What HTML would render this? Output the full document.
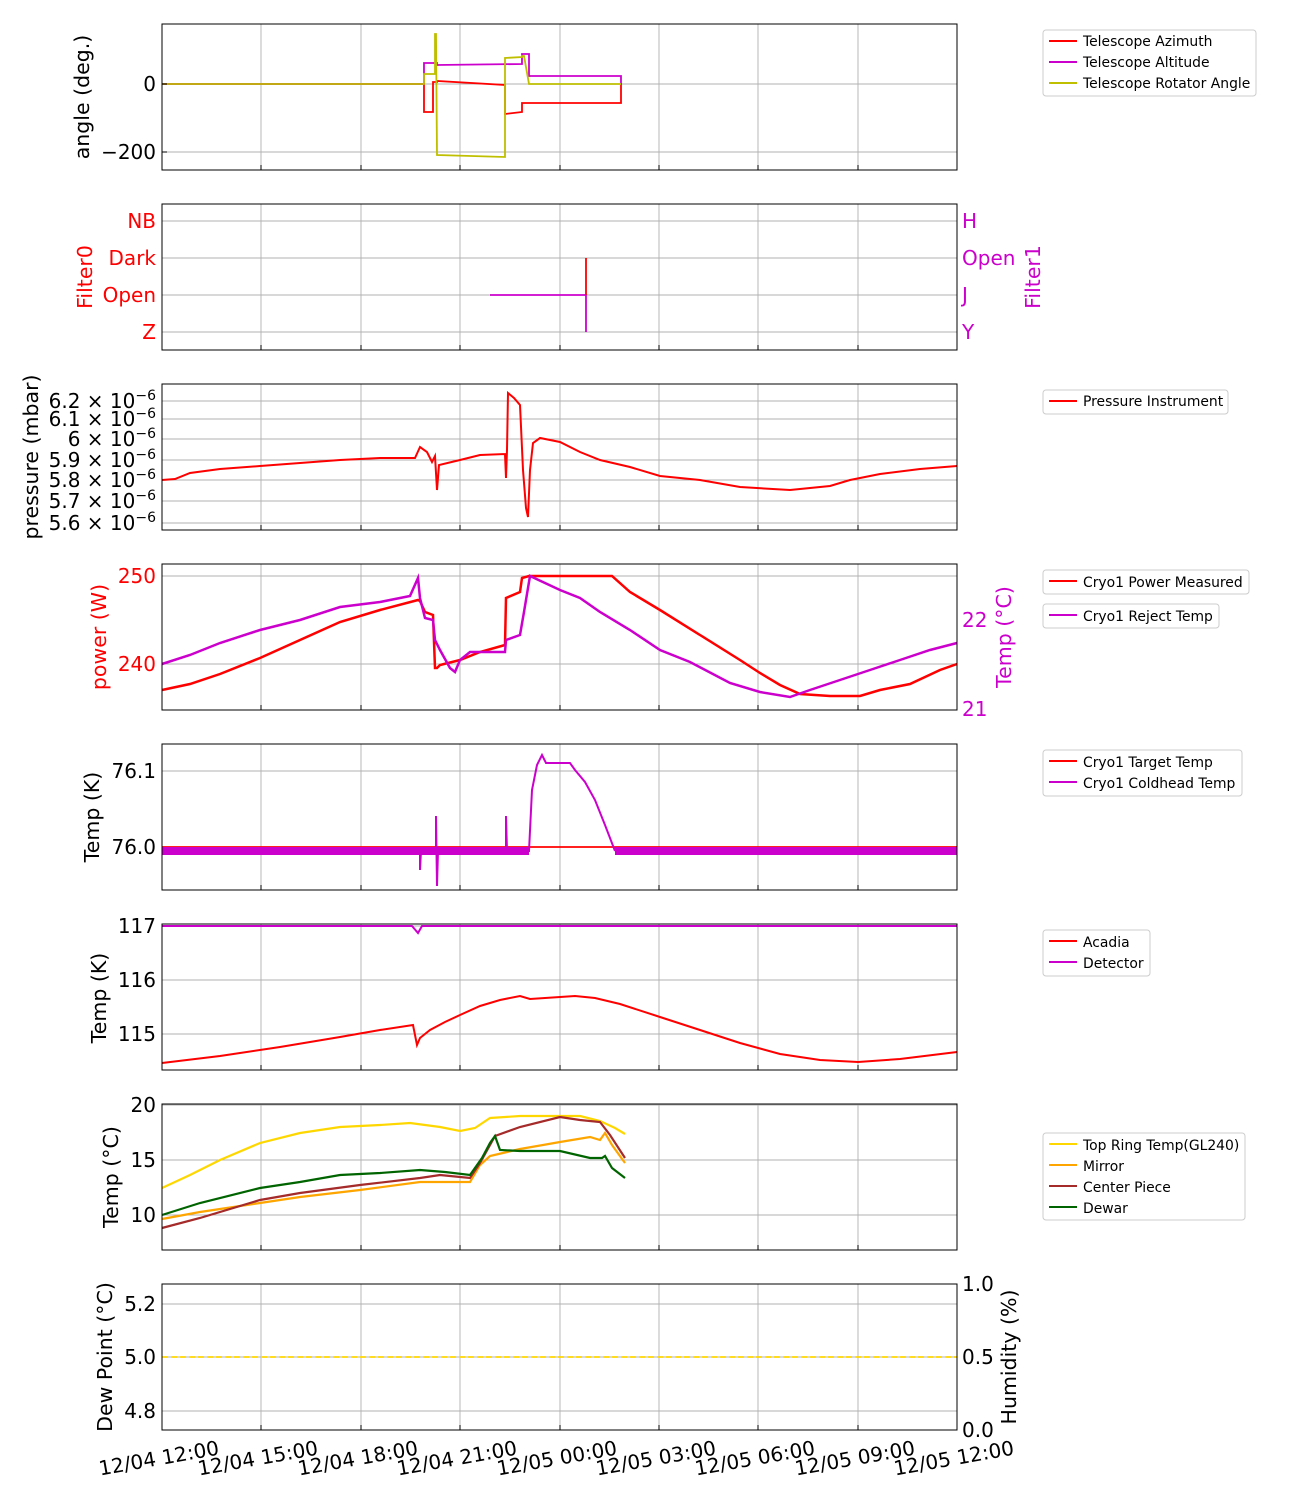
<!DOCTYPE html>
<html><head><meta charset="utf-8"><style>
body{margin:0;background:#fff}
svg{display:block;font-family:"DejaVu Sans","Liberation Sans",sans-serif}
.t{font-size:20px}
.a{font-size:20.5px}
.l{font-size:13.9px}
.g{stroke:#b0b0b0;stroke-width:0.9}
.f{fill:none}
</style></head><body>
<svg width="1300" height="1500" viewBox="0 0 1300 1500">
<defs>
<g id="vg">
<line class="g" x1="261" y1="0" x2="261" y2="146"/><line class="g" x1="361" y1="0" x2="361" y2="146"/><line class="g" x1="460" y1="0" x2="460" y2="146"/><line class="g" x1="560" y1="0" x2="560" y2="146"/><line class="g" x1="659" y1="0" x2="659" y2="146"/><line class="g" x1="758" y1="0" x2="758" y2="146"/><line class="g" x1="858" y1="0" x2="858" y2="146"/>
<g stroke="#000" stroke-width="1"><line x1="261" y1="146" x2="261" y2="141"/><line x1="361" y1="146" x2="361" y2="141"/><line x1="460" y1="146" x2="460" y2="141"/><line x1="560" y1="146" x2="560" y2="141"/><line x1="659" y1="146" x2="659" y2="141"/><line x1="758" y1="146" x2="758" y2="141"/><line x1="858" y1="146" x2="858" y2="141"/></g>
</g>
</defs>
<use href="#vg" y="24"/><use href="#vg" y="204"/><use href="#vg" y="384"/><use href="#vg" y="564"/><use href="#vg" y="744"/><use href="#vg" y="924"/><use href="#vg" y="1104"/><use href="#vg" y="1284"/>

<!-- Panel 1 -->
<g class="g"><line x1="162" y1="84" x2="957" y2="84"/><line x1="162" y1="152" x2="957" y2="152"/></g>
<g class="f" stroke-width="1.8">
<polyline stroke="#ff0000" points="162,84 424,84 424,112 433,112 433,82 437,82 437,81 505,85 505,114 522,112 522,103 529,103 621,103 621,84"/>
<polyline stroke="#cc00cc" points="162,84 424,84 424,63 437,63 437,65 522,64 522,54 529,54 529,76 621,76 621,84"/>
<polyline stroke="#bfbf00" points="162,84 424,84 424,74 435,74 435,34 436,34 437,155 505,157 505,58 522,57 522,56 524,56 529,84 621,84"/>
</g>
<rect x="162" y="24" width="795" height="146" class="f" stroke="#000" stroke-width="1"/>
<g stroke="#000"><line x1="162" y1="84" x2="167" y2="84"/><line x1="162" y1="152" x2="167" y2="152"/></g>
<text class="t" x="156" y="91" text-anchor="end">0</text>
<text class="t" x="156" y="159" text-anchor="end">−200</text>
<text class="a" transform="translate(89,97) rotate(-90)" text-anchor="middle">angle (deg.)</text>
<rect x="1043" y="30" width="213" height="66" rx="3" fill="#fff" stroke="#ccc"/>
<g stroke-width="2"><line x1="1049" y1="41" x2="1077" y2="41" stroke="#f00"/><line x1="1049" y1="62" x2="1077" y2="62" stroke="#c0c"/><line x1="1049" y1="83" x2="1077" y2="83" stroke="#bfbf00"/></g>
<text class="l" x="1083" y="46">Telescope Azimuth</text><text class="l" x="1083" y="67">Telescope Altitude</text><text class="l" x="1083" y="88">Telescope Rotator Angle</text>

<!-- Panel 2 -->
<g class="g"><line x1="162" y1="221" x2="957" y2="221"/><line x1="162" y1="258" x2="957" y2="258"/><line x1="162" y1="295" x2="957" y2="295"/><line x1="162" y1="332" x2="957" y2="332"/></g>
<line x1="490" y1="295" x2="586" y2="295" stroke="#c0c" stroke-width="1.8"/>
<line x1="586" y1="295" x2="586" y2="332" stroke="#c0c" stroke-width="1.8"/>
<line x1="586" y1="258" x2="586" y2="295" stroke="#f00" stroke-width="1.8"/>
<rect x="162" y="204" width="795" height="146" class="f" stroke="#000"/>
<g fill="#f00" class="t" text-anchor="end"><text x="156" y="228">NB</text><text x="156" y="265">Dark</text><text x="156" y="302">Open</text><text x="156" y="339">Z</text></g>
<g fill="#c0c" class="t"><text x="962" y="228">H</text><text x="962" y="265">Open</text><text x="962" y="302">J</text><text x="962" y="339">Y</text></g>
<text class="a" fill="#f00" transform="translate(92,277) rotate(-90)" text-anchor="middle">Filter0</text>
<text class="a" fill="#c0c" transform="translate(1040,277) rotate(-90)" text-anchor="middle">Filter1</text>

<!-- Panel 3 -->
<g class="g"><line x1="162" y1="401" x2="957" y2="401"/><line x1="162" y1="419" x2="957" y2="419"/><line x1="162" y1="439" x2="957" y2="439"/><line x1="162" y1="460" x2="957" y2="460"/><line x1="162" y1="480" x2="957" y2="480"/><line x1="162" y1="501" x2="957" y2="501"/><line x1="162" y1="523" x2="957" y2="523"/></g>
<polyline class="f" stroke="#f00" stroke-width="2" points="162,480 175,479 190,473 220,469 260,466 300,463 340,460 380,458 415,458 420,447 427,452 432,462 435,456 437,490 439,465 460,460 480,455 505,454 506,478 507,450 508,393 514,398 520,405 523,470 526,508 528,517 530,470 533,443 540,438 560,442 580,452 600,460 630,467 660,476 700,480 740,487 790,490 830,486 850,480 880,474 920,469 957,466"/>
<rect x="162" y="384" width="795" height="146" class="f" stroke="#000"/>
<g class="t" text-anchor="end"><text x="156" y="408">6.2 × 10<tspan font-size="14" dy="-8">−6</tspan></text><text x="156" y="426">6.1 × 10<tspan font-size="14" dy="-8">−6</tspan></text><text x="156" y="446">6 × 10<tspan font-size="14" dy="-8">−6</tspan></text><text x="156" y="467">5.9 × 10<tspan font-size="14" dy="-8">−6</tspan></text><text x="156" y="487">5.8 × 10<tspan font-size="14" dy="-8">−6</tspan></text><text x="156" y="508">5.7 × 10<tspan font-size="14" dy="-8">−6</tspan></text><text x="156" y="530">5.6 × 10<tspan font-size="14" dy="-8">−6</tspan></text></g>
<text class="a" transform="translate(38,457) rotate(-90)" text-anchor="middle">pressure (mbar)</text>
<rect x="1043" y="390" width="185" height="24" rx="3" fill="#fff" stroke="#ccc"/>
<line x1="1049" y1="401" x2="1077" y2="401" stroke="#f00" stroke-width="2"/><text class="l" x="1083" y="406">Pressure Instrument</text>

<!-- Panel 4 -->
<g class="g"><line x1="162" y1="576" x2="957" y2="576"/><line x1="162" y1="664" x2="957" y2="664"/></g>
<polyline class="f" stroke="#f00" stroke-width="2.5" points="162,690 190,684 220,674 260,658 300,640 340,622 380,610 418,600 420,601 425,612 433,615 435,668 437,668 440,665 460,660 480,652 505,645 506,598 520,592 522,578 529,576 612,576 630,592 660,610 700,635 740,660 760,673 780,685 800,694 830,696 860,696 880,690 910,684 940,670 957,664"/>
<polyline class="f" stroke="#c0c" stroke-width="2.5" points="162,664 190,655 220,643 260,630 300,620 340,607 380,602 410,596 418,578 420,598 425,618 433,620 435,640 440,650 450,668 455,672 460,660 470,652 505,652 506,640 520,635 524,612 530,576 545,583 560,590 580,598 600,612 630,630 660,650 690,662 730,683 760,692 790,697 810,690 840,680 870,670 900,660 930,650 957,643"/>
<rect x="162" y="564" width="795" height="146" class="f" stroke="#000"/>
<g class="t"><text x="156" y="583" text-anchor="end" fill="#f00">250</text><text x="156" y="671" text-anchor="end" fill="#f00">240</text><text x="962" y="627" fill="#c0c">22</text><text x="962" y="716" fill="#c0c">21</text></g>
<text class="a" fill="#f00" transform="translate(106,637) rotate(-90)" text-anchor="middle">power (W)</text>
<text class="a" fill="#c0c" transform="translate(1011,637) rotate(-90)" text-anchor="middle">Temp (°C)</text>
<rect x="1043" y="570" width="206" height="24" rx="3" fill="#fff" stroke="#ccc"/>
<line x1="1049" y1="581" x2="1077" y2="581" stroke="#f00" stroke-width="2"/><text class="l" x="1083" y="587">Cryo1 Power Measured</text>
<rect x="1043" y="604" width="176" height="24" rx="3" fill="#fff" stroke="#ccc"/>
<line x1="1049" y1="615" x2="1077" y2="615" stroke="#c0c" stroke-width="2"/><text class="l" x="1083" y="621">Cryo1 Reject Temp</text>

<!-- Panel 5 -->
<g class="g"><line x1="162" y1="771" x2="957" y2="771"/><line x1="162" y1="847" x2="957" y2="847"/></g>
<line x1="162" y1="847" x2="957" y2="847" stroke="#f00" stroke-width="1.8"/>
<g class="f" stroke="#c0c">
<line x1="162" y1="851" x2="529" y2="851" stroke-width="8"/>
<line x1="615" y1="851" x2="957" y2="851" stroke-width="8"/>
<polyline stroke-width="2" points="420,851 420,870 421,851 436,851 436,816 437,886 438,851 506,851 506,816 507,851 529,851 532,790 537,765 542,755 546,763 570,763 575,770 585,782 595,800 605,825 615,851"/>
</g>
<rect x="162" y="744" width="795" height="146" class="f" stroke="#000"/>
<g class="t" text-anchor="end"><text x="156" y="778">76.1</text><text x="156" y="854">76.0</text></g>
<text class="a" transform="translate(99,817) rotate(-90)" text-anchor="middle">Temp (K)</text>
<rect x="1043" y="750" width="199" height="46" rx="3" fill="#fff" stroke="#ccc"/>
<line x1="1049" y1="761" x2="1077" y2="761" stroke="#f00" stroke-width="2"/><text class="l" x="1083" y="767">Cryo1 Target Temp</text>
<line x1="1049" y1="782" x2="1077" y2="782" stroke="#c0c" stroke-width="2"/><text class="l" x="1083" y="788">Cryo1 Coldhead Temp</text>

<!-- Panel 6 -->
<g class="g"><line x1="162" y1="926" x2="957" y2="926"/><line x1="162" y1="980" x2="957" y2="980"/><line x1="162" y1="1034" x2="957" y2="1034"/></g>
<polyline class="f" stroke="#c0c" stroke-width="2" points="162,926 412,926 418,933 422,926 957,926"/>
<polyline class="f" stroke="#f00" stroke-width="2" points="162,1063 220,1056 280,1047 340,1037 380,1030 413,1025 417,1045 420,1038 430,1030 445,1022 460,1015 480,1006 500,1000 520,996 530,999 545,998 575,996 595,998 620,1004 660,1017 700,1030 740,1043 780,1054 820,1060 858,1062 900,1059 957,1052"/>
<rect x="162" y="924" width="795" height="146" class="f" stroke="#000"/>
<g class="t" text-anchor="end"><text x="156" y="933">117</text><text x="156" y="987">116</text><text x="156" y="1041">115</text></g>
<text class="a" transform="translate(106,998) rotate(-90)" text-anchor="middle">Temp (K)</text>
<rect x="1043" y="930" width="107" height="46" rx="3" fill="#fff" stroke="#ccc"/>
<line x1="1049" y1="941" x2="1077" y2="941" stroke="#f00" stroke-width="2"/><text class="l" x="1083" y="947">Acadia</text>
<line x1="1049" y1="962" x2="1077" y2="962" stroke="#c0c" stroke-width="2"/><text class="l" x="1083" y="968">Detector</text>

<!-- Panel 7 -->
<g class="g"><line x1="162" y1="1105" x2="957" y2="1105"/><line x1="162" y1="1160" x2="957" y2="1160"/><line x1="162" y1="1215" x2="957" y2="1215"/></g>
<g class="f" stroke-width="2.2">
<polyline stroke="#ffd700" points="162,1188 190,1175 220,1160 260,1143 300,1133 340,1127 380,1125 410,1123 440,1127 460,1131 475,1128 490,1118 520,1116 580,1116 600,1121 615,1128 625,1134"/>
<polyline stroke="#ffa500" points="162,1219 200,1212 260,1203 300,1197 360,1190 420,1182 470,1182 480,1165 490,1156 520,1149 560,1142 590,1137 600,1140 605,1133 612,1145 625,1163"/>
<polyline stroke="#a52a2a" points="162,1228 200,1218 260,1200 300,1193 360,1185 420,1178 440,1175 470,1178 480,1163 495,1136 520,1127 560,1117 580,1120 600,1122 610,1135 625,1158"/>
<polyline stroke="#006400" points="162,1215 200,1203 260,1188 300,1182 340,1175 380,1173 420,1170 445,1172 470,1175 482,1158 490,1143 495,1136 500,1150 520,1151 560,1151 590,1158 602,1158 605,1156 612,1168 625,1178"/>
</g>
<rect x="162" y="1104" width="795" height="146" class="f" stroke="#000"/>
<g class="t" text-anchor="end"><text x="156" y="1112">20</text><text x="156" y="1167">15</text><text x="156" y="1222">10</text></g>
<text class="a" transform="translate(118,1177) rotate(-90)" text-anchor="middle">Temp (°C)</text>
<rect x="1043" y="1133" width="202" height="87" rx="3" fill="#fff" stroke="#ccc"/>
<g stroke-width="2"><line x1="1049" y1="1144" x2="1077" y2="1144" stroke="#ffd700"/><line x1="1049" y1="1165" x2="1077" y2="1165" stroke="#ffa500"/><line x1="1049" y1="1186" x2="1077" y2="1186" stroke="#a52a2a"/><line x1="1049" y1="1207" x2="1077" y2="1207" stroke="#006400"/></g>
<text class="l" x="1083" y="1150">Top Ring Temp(GL240)</text><text class="l" x="1083" y="1171">Mirror</text><text class="l" x="1083" y="1192">Center Piece</text><text class="l" x="1083" y="1213">Dewar</text>

<!-- Panel 8 -->
<g class="g"><line x1="162" y1="1304" x2="957" y2="1304"/><line x1="162" y1="1357" x2="957" y2="1357"/><line x1="162" y1="1411" x2="957" y2="1411"/></g>
<line x1="162" y1="1357" x2="957" y2="1357" stroke="#ffd700" stroke-width="1.8" stroke-dasharray="6,3"/>
<rect x="162" y="1284" width="795" height="146" class="f" stroke="#000"/>
<g class="t" text-anchor="end"><text x="156" y="1311">5.2</text><text x="156" y="1364">5.0</text><text x="156" y="1418">4.8</text></g>
<g class="t"><text x="962" y="1291">1.0</text><text x="962" y="1364">0.5</text><text x="962" y="1437">0.0</text></g>
<text class="a" transform="translate(112,1357) rotate(-90)" text-anchor="middle">Dew Point (°C)</text>
<text class="a" transform="translate(1016,1357) rotate(-90)" text-anchor="middle">Humidity (%)</text>

<g class="t" text-anchor="middle">
<text transform="translate(160,1465) rotate(-10)">12/04 12:00</text>
<text transform="translate(259,1465) rotate(-10)">12/04 15:00</text>
<text transform="translate(359,1465) rotate(-10)">12/04 18:00</text>
<text transform="translate(458,1465) rotate(-10)">12/04 21:00</text>
<text transform="translate(558,1465) rotate(-10)">12/05 00:00</text>
<text transform="translate(657,1465) rotate(-10)">12/05 03:00</text>
<text transform="translate(756,1465) rotate(-10)">12/05 06:00</text>
<text transform="translate(856,1465) rotate(-10)">12/05 09:00</text>
<text transform="translate(955,1465) rotate(-10)">12/05 12:00</text>
</g>
</svg>
</body></html>
